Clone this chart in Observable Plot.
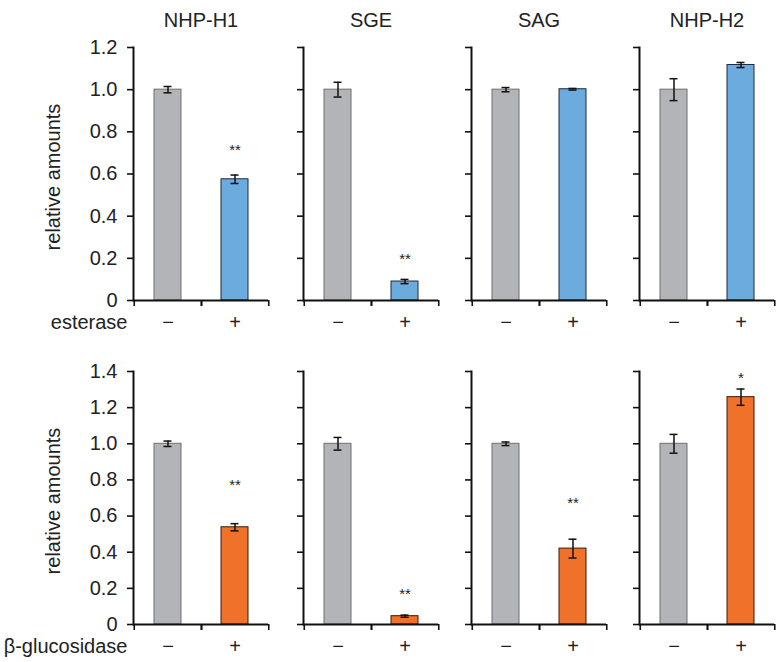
<!DOCTYPE html>
<html>
<head>
<meta charset="utf-8">
<script src="https://cdn.jsdelivr.net/npm/d3@7"></script>
<script src="https://cdn.jsdelivr.net/npm/@observablehq/plot@0.6"></script>
<style>
  html, body { margin: 0; padding: 0; background: #fff; }
  #chart { position: relative; width: 777px; height: 662px; overflow: hidden; font-family: "Liberation Sans", Arial, sans-serif; }
  #chart svg { position: absolute; overflow: visible; }
</style>
</head>
<body>
<div id="chart"></div>
<script>
// ---- data ----
const panels = ["NHP-H1", "SGE", "SAG", "NHP-H2"];
const treatment = ["−", "+"];

const esteraseControl = [1.0, 1.0, 1.0, 1.0];
const esteraseControlErr = [0.015, 0.035, 0.01, 0.052];
const esteraseTreated = [0.575, 0.09, 1.002, 1.117];
const esteraseTreatedErr = [0.02, 0.01, 0.004, 0.012];
const esteraseStars = ["**", "**", "", ""];
const esteraseStarY = [0.725, 0.21, null, null];

const glucControl = [1.0, 1.0, 1.0, 1.0];
const glucControlErr = [0.015, 0.035, 0.01, 0.052];
const glucTreated = [0.538, 0.046, 0.42, 1.258];
const glucTreatedErr = [0.02, 0.006, 0.052, 0.045];
const glucStars = ["**", "**", "**", "*"];
const glucStarY = [0.787, 0.184, 0.686, 1.378];

const esteraseTicks = [0, 0.2, 0.4, 0.6, 0.8, 1.0, 1.2];
const glucTicks = [0, 0.2, 0.4, 0.6, 0.8, 1.0, 1.2, 1.4];

const rows = [
  {label: "esterase", ctrl: esteraseControl, ctrlErr: esteraseControlErr, trt: esteraseTreated, trtErr: esteraseTreatedErr,
   stars: esteraseStars, starY: esteraseStarY, ticks: esteraseTicks, ymax: 1.2,
   fill: "#6babdd", stroke: "#1d2b3b", top: 0, height: 340, marginTop: 47, marginBottom: 40, titles: true},
  {label: "β-glucosidase", ctrl: glucControl, ctrlErr: glucControlErr, trt: glucTreated, trtErr: glucTreatedErr,
   stars: glucStars, starY: glucStarY, ticks: glucTicks, ymax: 1.4,
   fill: "#f0712a", stroke: "#3a1b0b", top: 340, height: 322, marginTop: 31, marginBottom: 38, titles: false}
];

const axisX0 = [133, 303, 471, 639];
const innerW = 135;
const font = "Liberation Sans, Arial, sans-serif";
const fmt = d => d === 0 ? "0" : d.toFixed(1);
const container = document.getElementById("chart");

rows.forEach(row => {
  panels.forEach((name, i) => {
    const first = i === 0;
    const marginLeft = first ? 133 : 20;
    const marginRight = i === 3 ? 3 : 6;
    const data = [
      {t: treatment[0], v: row.ctrl[i], e: row.ctrlErr[i], c: "ctrl"},
      {t: treatment[1], v: row.trt[i], e: row.trtErr[i], c: "trt"}
    ];
    const starData = row.stars[i] ? [{t: treatment[1], s: row.stars[i], y: row.starY[i]}] : [];
    const marks = [
      Plot.barY(data, {x: "t", y: "v",
        fill: d => d.c === "ctrl" ? "#b3b4b8" : row.fill,
        stroke: d => d.c === "ctrl" ? "#6e6f72" : row.stroke, strokeWidth: 1}),
      Plot.ruleX(data, {x: "t", y1: d => d.v - d.e, y2: d => d.v + d.e, stroke: "#111", strokeWidth: 1.5}),
      Plot.tickY(data, {x: "t", y: d => d.v - d.e, stroke: "#111", strokeWidth: 1.5, insetLeft: 9.5, insetRight: 9.5}),
      Plot.tickY(data, {x: "t", y: d => d.v + d.e, stroke: "#111", strokeWidth: 1.5, insetLeft: 9.5, insetRight: 9.5}),
      Plot.text(starData, {x: "t", y: "y", text: "s", fontSize: 15, fill: "#222", dy: 3}),
      Plot.axisY({ticks: row.ticks, tickSize: 6, tickPadding: 10, strokeWidth: 1.6, stroke: "#111",
        tickFormat: first ? fmt : () => "", fontSize: 20, fill: "#222", label: null}),
      Plot.frame({anchor: "left", stroke: "#111", strokeWidth: 2}),
      Plot.ruleY([0], {stroke: "#111", strokeWidth: 2}),
      Plot.axisX({tickSize: 6, strokeWidth: 1.6, stroke: "#111", tickFormat: () => "", dx: -innerW / 4, label: null}),
      Plot.axisX({tickSize: 6, strokeWidth: 1.6, stroke: "#111", tickFormat: () => "", dx: innerW / 4, label: null}),
      Plot.text(treatment, {x: d => d, frameAnchor: "bottom", dy: 28, fontSize: 20, fill: "#222"})
    ];
    if (row.titles) {
      marks.push(Plot.text([name], {frameAnchor: "top", dy: -35, fontSize: 20, fill: "#222"}));
    }
    if (first) {
      marks.push(Plot.text([row.label], {frameAnchor: "bottom-left", textAnchor: "end", dx: -6, dy: 28, fontSize: 20, fill: "#222"}));
      marks.push(Plot.text(["relative amounts"], {frameAnchor: "left", textAnchor: "middle", rotate: -90, dx: -80, dy: 3, fontSize: 20, fill: "#222"}));
    }
    const svg = Plot.plot({
      width: marginLeft + innerW + marginRight,
      height: row.height,
      marginTop: row.marginTop,
      marginBottom: row.marginBottom,
      marginLeft, marginRight,
      style: {fontFamily: font, background: "transparent", overflow: "visible"},
      x: {domain: treatment, paddingInner: 0.6, paddingOuter: 0.3, axis: null},
      y: {domain: [0, row.ymax], axis: null},
      marks
    });
    svg.style.left = (axisX0[i] - marginLeft) + "px";
    svg.style.top = row.top + "px";
    container.appendChild(svg);
  });
});
</script>
</body>
</html>
